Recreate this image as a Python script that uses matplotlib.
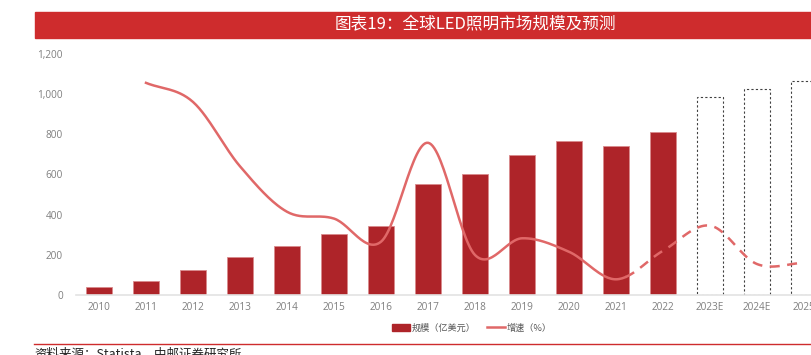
import numpy as np
import matplotlib
matplotlib.use("Agg")
from matplotlib import pyplot as plt
from matplotlib.patches import Patch, Rectangle
from matplotlib.lines import Line2D

plt.rcParams['font.family'] = ['Noto Sans CJK SC', 'DejaVu Sans']

# data
years = ['2010', '2011', '2012', '2013', '2014', '2015', '2016', '2017',
         '2018', '2019', '2020', '2021', '2022', '2023E', '2024E', '2025']
size_actual = [38, 70, 124, 189, 244, 303, 343, 552, 602, 696, 766, 741, 811]
size_forecast = [983, 1024, 1066]
growth_years = years[1:]
growth = [105.5, 96, 64, 41.4, 38, 26.5, 75.7, 19.9, 28.2, 21.5, 7.8, 22, 34.5, 15.4, 16]

bar_color = '#AE2429'
line_color = '#E06868'
tick_color = '#7F7F7F'
num_font = ['Open Sans', 'Noto Sans CJK SC']


def catmull_rom(xs, ys, n=30):
    # smooth curve through the points
    xs = np.asarray(xs, float)
    ys = np.asarray(ys, float)
    px = np.concatenate([[2 * xs[0] - xs[1]], xs, [2 * xs[-1] - xs[-2]]])
    py = np.concatenate([[2 * ys[0] - ys[1]], ys, [2 * ys[-1] - ys[-2]]])
    outx, outy = [], []
    for i in range(1, len(px) - 2):
        t = np.linspace(0, 1, n, endpoint=False)
        for arr, out in ((px, outx), (py, outy)):
            p0, p1, p2, p3 = arr[i - 1], arr[i], arr[i + 1], arr[i + 2]
            out.extend(0.5 * (2 * p1 + (-p0 + p2) * t
                              + (2 * p0 - 5 * p1 + 4 * p2 - p3) * t ** 2
                              + (-p0 + 3 * p1 - 3 * p2 + p3) * t ** 3))
    outx.append(xs[-1])
    outy.append(ys[-1])
    return np.array(outx), np.array(outy)


fig = plt.figure(figsize=(8.11, 3.55), dpi=100)

# title band
fig.patches.append(Rectangle((35 / 811, 1 - 38 / 355), 1, 26 / 355,
                             transform=fig.transFigure, color='#CE2C2D', zorder=0))
fig.text(475 / 811, 1 - 25 / 355, '图表19：全球LED照明市场规模及预测',
         color='white', fontsize=12, ha='center', va='center')

ax = fig.add_axes([75.5 / 811, 60 / 355, 752 / 811, 241.3 / 355])
x = np.arange(len(years))
n_act = len(size_actual)
ax.bar(x[:n_act], size_actual, width=0.56, color=bar_color,
       edgecolor='#D98A8C', linewidth=0.6, zorder=2)
ax.bar(x[n_act:], size_forecast, width=0.56, fill=False, edgecolor='#404040',
       linestyle=(0, (2, 2)), linewidth=0.8, zorder=2)
ax.set_xlim(-0.5, len(years) - 0.5)
ax.set_ylim(0, 1200)
ax.set_yticks(range(0, 1201, 200))
ax.set_yticklabels([f'{v:,}' for v in range(0, 1201, 200)], family=num_font)
ax.set_xticks(x)
ax.set_xticklabels(years, family=num_font)
ax.tick_params(length=0, labelsize=7.2, labelcolor=tick_color)
ax.tick_params(axis='y', pad=9)
ax.tick_params(axis='x', pad=5)
for s in ['top', 'right', 'left']:
    ax.spines[s].set_visible(False)
ax.spines['bottom'].set_color('#E3E3E3')
ax.spines['bottom'].set_linewidth(1.2)

ax2 = ax.twinx()
ax2.set_ylim(0, 120)
ax2.axis('off')
gx = np.arange(1, len(years))
cx, cy = catmull_rom(gx, growth)
split = 11.2
ax2.plot(cx[cx <= split], cy[cx <= split], color=line_color, lw=1.8, zorder=3)
ax2.plot(cx[cx >= split], cy[cx >= split], color=line_color, lw=1.8,
         linestyle=(0, (4, 3)), zorder=3)

handles = [Patch(color=bar_color), Line2D([], [], color=line_color, lw=1.8)]
fig.legend(handles, ['规模（亿美元）', '增速（%）'], loc='center',
           bbox_to_anchor=(472 / 811, 1 - 328 / 355), ncol=2, frameon=False,
           fontsize=6.6, labelcolor='#555555', handlelength=2.0, handleheight=0.7,
           columnspacing=1.2, handletextpad=0.2)

fig.add_artist(Line2D([34 / 811, 1], [1 - 344 / 355] * 2, color='#CE2C2D', lw=1.0))
fig.text(34 / 811, 1 - 348 / 355, '资料来源：Statista，中邮证券研究所',
         fontsize=9, ha='left', va='top', color='#222222')

fig.savefig('out.png', dpi=100)
